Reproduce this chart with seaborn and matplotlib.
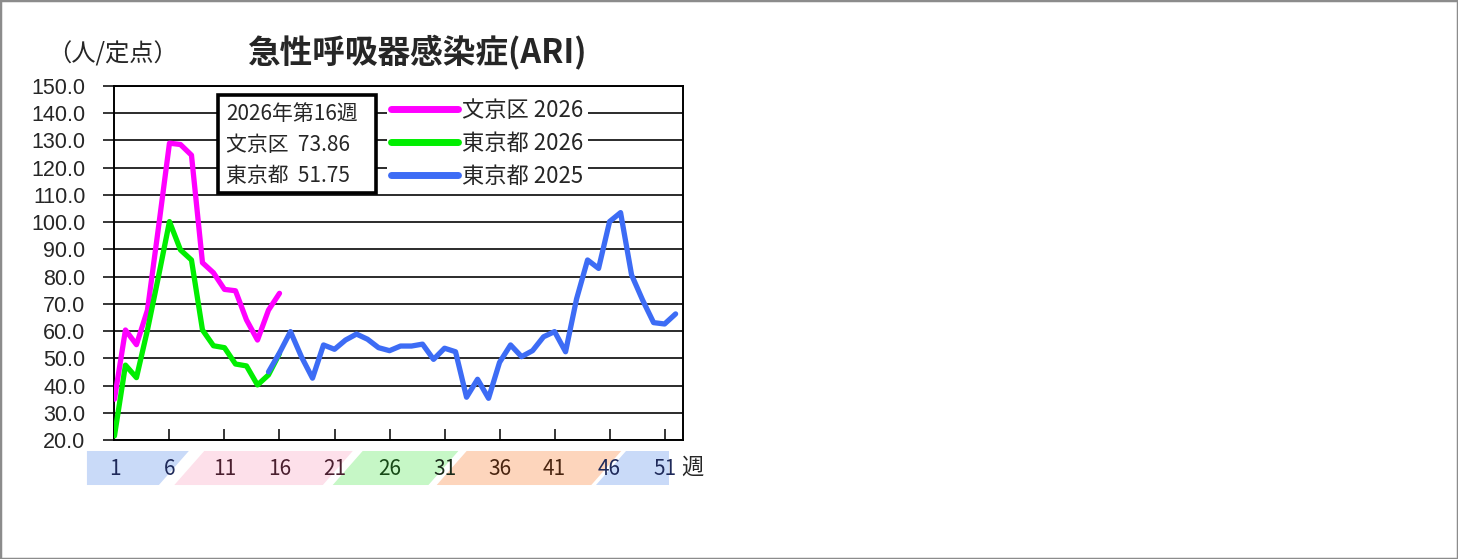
import pandas as pd
import seaborn as sns
import matplotlib.pyplot as plt
from matplotlib.patches import Polygon, Rectangle
from matplotlib.transforms import blended_transform_factory

# weekly values (人/定点)
weeks_2026 = list(range(1, 17))
bunkyo_2026 = [35.0, 60.4, 55.0, 67.7, 98.0, 129.0, 128.5, 124.6, 85.1, 81.4,
               75.3, 74.8, 64.1, 56.7, 67.7, 73.86]
tokyo_2026 = [21.5, 47.5, 42.9, 60.4, 80.0, 100.2, 89.8, 86.1, 60.4, 54.6,
              53.9, 47.9, 47.2, 40.2, 43.9, 51.75]
weeks_2025 = list(range(15, 53))
tokyo_2025 = [45.0, 52.0, 59.8, 50.5, 42.7, 54.9, 53.3, 56.7, 58.9, 57.0,
              53.9, 52.8, 54.5, 54.5, 55.2, 49.6, 53.7, 52.4, 35.7, 42.3,
              35.3, 48.5, 54.9, 50.6, 52.8, 57.9, 59.8, 52.4, 71.8, 86.1,
              83.0, 100.2, 103.5, 80.6, 71.4, 63.1, 62.6, 66.3]

series_labels = ['文京区 2026', '東京都 2026', '東京都 2025']
series_colors = ['#ff00ff', '#00ee00', '#3d6cf5']

tick_weeks = list(range(1, 53, 5))
tick_colors = ['#1f2a5a', '#1f2a5a', '#4a1f2f', '#4a1f2f', '#4a1f2f',
               '#174a17', '#1a2a1a', '#4a2510', '#4a2510', '#1f2a5a', '#1f2a5a']

# season bands under the axis: (start week, end week, colour)
season_bands = [(-1.5, 6.4, '#c9daf8'), (7.8, 21.3, '#fde0ea'),
                (22.2, 30.9, '#c6f7c6'), (31.65, 45.7, '#fdd5bc'),
                (46.1, 51.4, '#c9daf8')]

current_week = 16

df = pd.concat([
    pd.DataFrame({'week': weeks_2026, 'value': bunkyo_2026, 'series': series_labels[0]}),
    pd.DataFrame({'week': weeks_2026, 'value': tokyo_2026, 'series': series_labels[1]}),
    pd.DataFrame({'week': weeks_2025, 'value': tokyo_2025, 'series': series_labels[2]}),
])

sns.set_style('white')
plt.rcParams['font.family'] = ['Noto Sans CJK JP', 'DejaVu Sans']

fig = plt.figure(figsize=(14.58, 5.59), dpi=100)
ax = fig.add_axes([0.0785, 0.2129, 0.390, 0.6333])

for label, color in zip(series_labels, series_colors):
    sns.lineplot(data=df[df['series'] == label], x='week', y='value', ax=ax,
                 color=color, linewidth=3.8, label=label, zorder=3,
                 solid_capstyle='round', solid_joinstyle='round')

ax.set_xlim(1, 52.68)
ax.set_ylim(20, 150)
ax.set_yticks(range(20, 151, 10))
ax.set_yticklabels([f'{v:.1f}' for v in range(20, 151, 10)],
                   family='Liberation Sans', fontsize=15.5)
ax.yaxis.grid(True, color='#1a1a1a', linewidth=1.3)
ax.set_axisbelow(True)
ax.tick_params(axis='y', direction='out', length=8, width=1.3, pad=13, left=True)

ax.set_xticks(tick_weeks)
ax.set_xticklabels([str(w) for w in tick_weeks], fontsize=15)
ax.tick_params(axis='x', direction='in', length=8, width=1.3, pad=13, bottom=True)
for lbl, c in zip(ax.get_xticklabels(), tick_colors):
    lbl.set_color(c)
ax.set_xlabel('')
ax.set_ylabel('')
for side in ['left', 'right', 'bottom', 'top']:
    ax.spines[side].set_color('black')
    ax.spines[side].set_linewidth(1.4)

# season bands (parallelograms below the week axis)
y_top, y_bot, slant = 15.96, 3.47, 1.36
for i, (s, e, c) in enumerate(season_bands):
    sl = 0 if i == 0 else slant
    sr = 0 if i == len(season_bands) - 1 else slant
    pts = [(s - sl, y_bot), (e - sr, y_bot), (e + sr, y_top), (s + sl, y_top)]
    ax.add_patch(Polygon(pts, closed=True, facecolor=c, edgecolor='none',
                         clip_on=False, zorder=0))
for lbl in ax.get_xticklabels():
    lbl.set_zorder(5)

trans = blended_transform_factory(ax.transAxes, ax.transAxes)
ax.text(0.996, -0.076, '週', transform=trans, fontsize=16, ha='left', va='center')

# info box with the latest week
ax.add_patch(Rectangle((0.182, 0.698), 0.278, 0.277, transform=ax.transAxes,
                       facecolor='white', edgecolor='black', linewidth=2.6, zorder=6))
idx = weeks_2026.index(current_week)
info_lines = [f'2026年第{current_week}週',
              f'文京区  {bunkyo_2026[idx]:.2f}',
              f'東京都  {tokyo_2026[idx]:.2f}']
for line, yy in zip(info_lines, [0.921, 0.833, 0.747]):
    ax.text(0.197, yy, line, transform=ax.transAxes, fontsize=15,
            ha='left', va='center', zorder=7)

leg = ax.legend(loc='upper left', bbox_to_anchor=(0.479, 0.975), fontsize=16,
                frameon=True, facecolor='white', edgecolor='none', framealpha=1,
                fancybox=False, handlelength=3.0, handletextpad=0.2,
                labelspacing=0.45, borderpad=0.2, borderaxespad=0)
leg.set_zorder(6)
for h in leg.get_lines():
    h.set_linewidth(5)
    h.set_solid_capstyle('round')

fig.text(417 / 1458, 1 - 53 / 559, '急性呼吸器感染症(ARI)', fontsize=23.5,
         fontweight='bold', ha='center', va='center')
fig.text(113 / 1458, 1 - 54 / 559, '（人/定点）', fontsize=17.5,
         ha='center', va='center')

fig.patches.append(Rectangle((0, 0), 1, 1, transform=fig.transFigure, fill=False,
                             edgecolor='#8c8c8c', linewidth=2.5))

fig.savefig('out.png', dpi=100)
